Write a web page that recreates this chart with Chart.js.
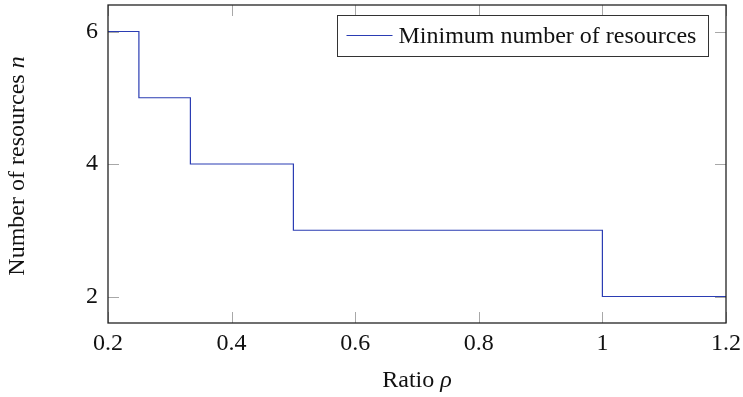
<!DOCTYPE html>
<html>
<head>
<meta charset="utf-8">
<script src="https://cdn.jsdelivr.net/npm/chart.js@4.4.1/dist/chart.umd.min.js"></script>
<style>
  html, body { margin: 0; padding: 0; background: #fff; }
  #wrap { width: 743px; height: 397px; }
</style>
</head>
<body>
<div id="wrap"><canvas id="chart" width="743" height="397"></canvas></div>
<script>
// data
var rho = [0.2, 0.25, 1 / 3, 0.5, 1, 1.2];
var nRes = [6, 5, 4, 3, 2, 2];
var xTicks = [0.2, 0.4, 0.6, 0.8, 1, 1.2];
var yTicks = [2, 4, 6];
var seriesLabel = "Minimum number of resources";

var FONT = '"Liberation Serif", serif';
var lineColor = "#2b3db3";

// inward ticks, drawn under the line
var pgfTicks = {
    id: "pgfTicks",
    beforeDatasetsDraw: function (chart) {
        var c = chart.ctx, a = chart.chartArea;
        var xs = chart.scales.x, ys = chart.scales.y;
        c.save();
        c.strokeStyle = "#a8a8a8";
        c.lineWidth = 1;
        c.beginPath();
        xTicks.forEach(function (v) {
            var px = Math.round(xs.getPixelForValue(v)) + 0.5;
            c.moveTo(px, a.bottom); c.lineTo(px, a.bottom - 11);
            c.moveTo(px, a.top); c.lineTo(px, a.top + 11);
        });
        yTicks.forEach(function (v) {
            var py = Math.round(ys.getPixelForValue(v)) + 0.5;
            c.moveTo(a.left, py); c.lineTo(a.left + 11, py);
            c.moveTo(a.right, py); c.lineTo(a.right - 11, py);
        });
        c.stroke();
        c.restore();
    }
};

// frame, axis titles, legend
var pgfLook = {
    id: "pgfLook",
    afterDraw: function (chart) {
        var c = chart.ctx, a = chart.chartArea;
        c.save();
        c.strokeStyle = "#222";
        c.lineWidth = 1.3;
        c.strokeRect(a.left, a.top, a.right - a.left, a.bottom - a.top);

        // axis titles, symbols in italic
        c.fillStyle = "#111";
        c.textBaseline = "middle";
        c.textAlign = "left";
        var up = "24px " + FONT, it = "italic 24px " + FONT;
        c.font = up; var w1 = c.measureText("Ratio ").width;
        c.font = it; var w2 = c.measureText("\u03c1").width;
        var x0 = (a.left + a.right) / 2 - (w1 + w2) / 2;
        c.font = up; c.fillText("Ratio ", x0, 381);
        c.font = it; c.fillText("\u03c1", x0 + w1, 381);

        c.save();
        c.translate(18, (a.top + a.bottom) / 2 + 2);
        c.rotate(-Math.PI / 2);
        c.font = up; var w3 = c.measureText("Number of resources ").width;
        c.font = it; var w4 = c.measureText("n").width;
        var y0 = -(w3 + w4) / 2;
        c.font = up; c.fillText("Number of resources ", y0, 0);
        c.font = it; c.fillText("n", y0 + w3, 0);
        c.restore();

        // legend box
        var lx = 337.5, ly = 15.5, lw = 371, lh = 41;
        c.fillStyle = "#fff";
        c.fillRect(lx, ly, lw, lh);
        c.strokeStyle = "#333";
        c.lineWidth = 1;
        c.strokeRect(lx, ly, lw, lh);
        c.strokeStyle = lineColor;
        c.beginPath();
        c.moveTo(lx + 9, ly + 20); c.lineTo(lx + 55, ly + 20);
        c.stroke();
        c.fillStyle = "#111";
        c.font = up;
        c.fillText(chart.data.datasets[0].label, lx + 61, ly + 21);
        c.restore();
    }
};

function draw() {
    var pts = rho.map(function (r, i) { return { x: r, y: nRes[i] }; });
    var ctx = document.getElementById("chart");
    var myChart = new Chart(ctx, {
        type: "line",
        data: {
            datasets: [{
                label: seriesLabel,
                data: pts,
                borderColor: lineColor,
                borderWidth: 1.2,
                pointRadius: 0,
                stepped: "before",
                fill: false
            }]
        },
        options: {
            responsive: false,
            animation: false,
            layout: { padding: { top: 5, right: 17, left: 0, bottom: 0 } },
            plugins: { legend: { display: false }, tooltip: { enabled: false } },
            scales: {
                x: {
                    type: "linear",
                    min: 0.2,
                    max: 1.2,
                    afterBuildTicks: function (s) { s.ticks = xTicks.map(function (v) { return { value: v }; }); },
                    afterFit: function (s) { s.height = 74; s.paddingLeft = 0; s.paddingRight = 0; },
                    grid: { display: false, drawTicks: false },
                    border: { display: false },
                    ticks: {
                        padding: 6,
                        color: "#111",
                        font: { family: FONT, size: 24 },
                        maxRotation: 0,
                        callback: function (v) { return String(+v.toFixed(1)); }
                    }
                },
                y: {
                    type: "linear",
                    min: 1.6,
                    max: 6.4,
                    afterBuildTicks: function (s) { s.ticks = yTicks.map(function (v) { return { value: v }; }); },
                    afterFit: function (s) { s.width = 108; s.paddingTop = 0; s.paddingBottom = 0; },
                    grid: { display: false, drawTicks: false },
                    border: { display: false },
                    ticks: {
                        padding: 10,
                        color: "#111",
                        font: { family: FONT, size: 24 },
                        callback: function (v) { return String(v); }
                    }
                }
            }
        },
        plugins: [pgfTicks, pgfLook]
    });
}

if (document.fonts && document.fonts.load) {
    document.fonts.load('24px "Liberation Serif"').then(draw, draw);
} else {
    draw();
}
</script>
</body>
</html>
